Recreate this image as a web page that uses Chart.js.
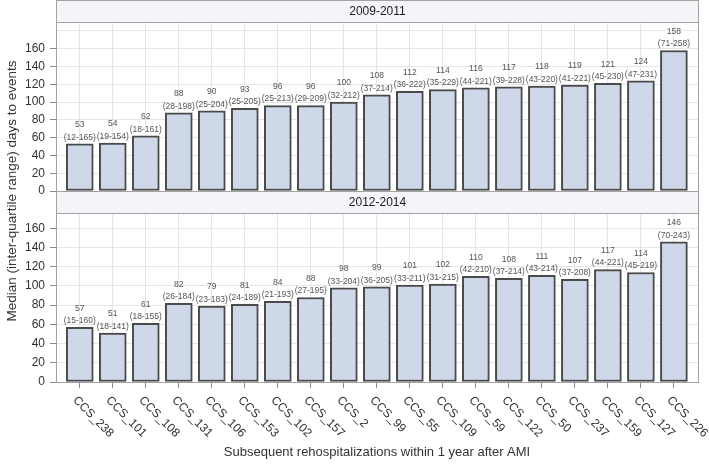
<!DOCTYPE html>
<html>
<head>
<meta charset="utf-8">
<script src="https://cdn.jsdelivr.net/npm/chart.js@4.4.0/dist/chart.umd.min.js"></script>
<style>
  body { margin: 0; background: #fff; }
  #wrap { position: relative; width: 709px; height: 466px; }
  canvas { position: absolute; left: 0; }
  #top { top: 0; }
  #bottom { top: 191px; }
</style>
</head>
<body>
<div id="wrap">
  <canvas id="top" width="709" height="466"></canvas>
  <canvas id="bottom" width="709" height="275"></canvas>
</div>
<script>
const categories = ['CCS_238', 'CCS_101', 'CCS_108', 'CCS_131', 'CCS_106', 'CCS_153', 'CCS_102', 'CCS_157', 'CCS_2', 'CCS_99',
    'CCS_55', 'CCS_109', 'CCS_59', 'CCS_122', 'CCS_50', 'CCS_237', 'CCS_159', 'CCS_127', 'CCS_226']

const median0911 = [53, 54, 62, 88, 90, 93, 96, 96, 100, 108, 112, 114, 116, 117, 118, 119, 121, 124, 158]
const iqr0911 = ['12-165', '19-154', '18-161', '28-198', '25-204', '25-205', '25-213', '29-209', '32-212', '37-214',
    '36-222', '35-229', '44-221', '39-228', '43-220', '41-221', '45-230', '47-231', '71-258']

const median1214 = [57, 51, 61, 82, 79, 81, 84, 88, 98, 99, 101, 102, 110, 108, 111, 107, 117, 114, 146]
const iqr1214 = ['15-160', '18-141', '18-155', '26-184', '23-183', '24-189', '21-193', '27-195', '33-204', '36-205',
    '33-211', '31-215', '42-210', '37-214', '43-214', '37-208', '44-221', '45-219', '70-243']

const yTickValues = [0, 20, 40, 60, 80, 100, 120, 140, 160, 180]
const xTitle = 'Subsequent rehospitalizations within 1 year after AMI'
const yTitle = 'Median (inter-quartile range) days to events'

const FONT = "'Liberation Sans', Arial, sans-serif"

// top panel canvas covers the whole page (so it can hold the shared y title),
// bottom panel canvas sits on top of it from y=191
function makePanel(id, title, values, iqr, yMax, isBottom) {
    const canvas = document.getElementById(id)
    const ctx = canvas.getContext('2d')

    const panelPlugin = {
        id: 'panel',
        afterDatasetsDraw(chart) {
            const c = chart.ctx
            const a = chart.chartArea
            const l = Math.round(a.left) + 0.5, r = Math.round(a.right) + 0.5
            const b = Math.round(a.bottom) + 0.5, t = Math.round(a.top) + 0.5

            c.save()
            c.fillStyle = '#f4f5f9'
            c.fillRect(l, 0.5, r - l, t - 0.5)
            c.strokeStyle = '#a3a3a3'
            c.lineWidth = 1
            c.strokeRect(l, 0.5, r - l, b - 0.5)
            c.beginPath()
            c.moveTo(l, t)
            c.lineTo(r, t)
            c.stroke()

            c.fillStyle = '#222'
            c.font = '12px ' + FONT
            c.textAlign = 'center'
            c.textBaseline = 'middle'
            c.fillText(title, (l + r) / 2, t / 2 + 0.5)

            c.fillStyle = '#555'
            c.font = '8.5px ' + FONT
            chart.getDatasetMeta(0).data.forEach((bar, i) => {
                c.fillText(values[i], bar.x, bar.y - 19)
                c.fillText('(' + iqr[i] + ')', bar.x, bar.y - 6.5)
            })

            if (isBottom) {
                const xs = chart.scales.x
                c.fillStyle = '#333'
                c.font = '12px ' + FONT
                c.textAlign = 'left'
                categories.forEach((lab, i) => {
                    c.save()
                    c.translate(xs.getPixelForValue(i) - 5, a.bottom + 16.5)
                    c.rotate(Math.PI / 4)
                    c.fillText(lab, 0, 0)
                    c.restore()
                })
                c.textAlign = 'center'
                c.font = '13px ' + FONT
                c.fillText(xTitle, (a.left + a.right) / 2, 261)
            } else {
                c.fillStyle = '#333'
                c.font = '13.5px ' + FONT
                c.textAlign = 'center'
                c.translate(12, 191)
                c.rotate(-Math.PI / 2)
                c.fillText(yTitle, 0, 0)
            }
            c.restore()
        }
    }

    return new Chart(ctx, {
        type: 'bar',
        data: {
            datasets: [{
                data: values.map((v, i) => ({ x: i, y: v })),
                backgroundColor: 'rgb(207,216,232)',
                borderColor: '#4a4a4a',
                borderWidth: 2,
                borderSkipped: false,
                barThickness: 27
            }]
        },
        options: {
            responsive: false,
            animation: false,
            layout: { padding: { left: 0, right: 11, top: 22, bottom: isBottom ? 0 : 275 } },
            plugins: { legend: { display: false }, tooltip: { enabled: false } },
            scales: {
                x: {
                    type: 'linear',
                    offset: false,
                    min: -0.72,
                    max: 18.73,
                    afterBuildTicks: s => { s.ticks = categories.map((_, i) => ({ value: i })) },
                    afterFit: s => { s.height = isBottom ? 84 : 0; s.paddingLeft = 0; s.paddingRight = 0 },
                    ticks: { display: false },
                    border: { display: false },
                    grid: { offset: false, color: '#e6e6e6', drawTicks: isBottom, tickLength: 6, tickColor: '#8a8a8a' }
                },
                y: {
                    min: 0,
                    max: yMax,
                    afterBuildTicks: s => { s.ticks = yTickValues.filter(v => v <= s.max).map(v => ({ value: v })) },
                    afterFit: s => { s.width = 56; s.paddingTop = 0; s.paddingBottom = 0 },
                    border: { display: false },
                    grid: {
                        color: '#e6e6e6',
                        tickLength: 6,
                        tickColor: c => (c.tick && c.tick.value > 160) ? 'rgba(0,0,0,0)' : '#8a8a8a'
                    },
                    ticks: {
                        padding: 5,
                        color: '#333',
                        font: { family: FONT, size: 12 },
                        callback: v => v > 160 ? '' : v
                    }
                }
            }
        },
        plugins: [panelPlugin]
    })
}

makePanel('top', '2009-2011', median0911, iqr0911, 190, false)
makePanel('bottom', '2012-2014', median1214, iqr1214, 176, true)
</script>
</body>
</html>
